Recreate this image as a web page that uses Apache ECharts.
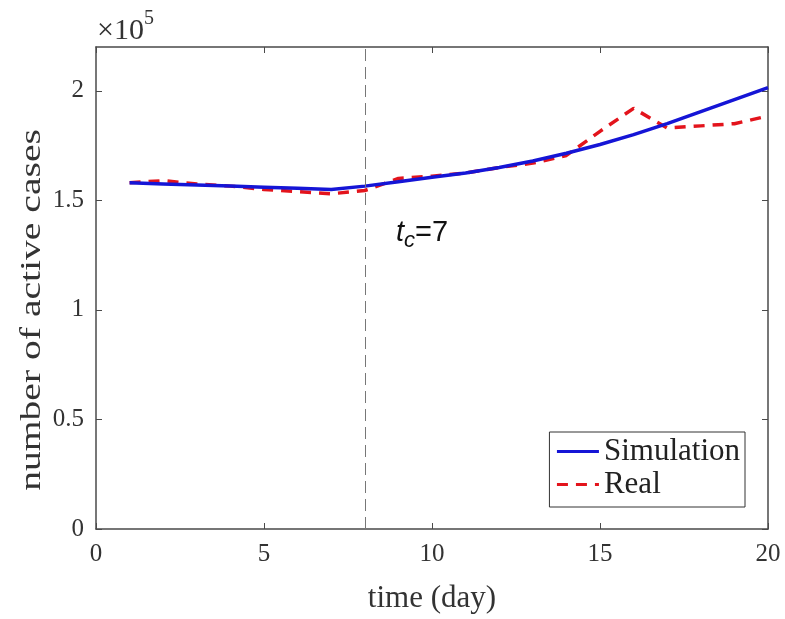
<!DOCTYPE html>
<html>
<head>
<meta charset="utf-8">
<script src="https://cdn.jsdelivr.net/npm/echarts@6/dist/echarts.min.js"></script>
<style>
    html, body { margin: 0; padding: 0; background: #fff; }
    #chart { width: 785px; height: 619px; }
</style>
</head>
<body>
<div id="chart"></div>
<script>
//数据
const days = [1, 2, 3, 4, 5, 6, 7, 8, 9, 10, 11, 12, 13, 14, 15, 16, 17, 18, 19, 20]
const simulation = [158000, 157500, 157000, 156500, 156000, 155500, 155000, 156500, 158500, 160500,
    162500, 165000, 168000, 171500, 175500, 180000, 185000, 190500, 196000, 201500]
const real = [158000, 159000, 157500, 156500, 155000, 154000, 153000, 154500, 160000, 161000,
    162500, 165000, 167000, 170500, 181500, 192000, 183000, 184000, 185000, 188500]
const yTicks = [0, 50000, 100000, 150000, 200000]
const xTicks = [0, 5, 10, 15, 20]
const tc = 8

;(function () {
    const dom = document.querySelector("#chart")
    const echartsInstance = echarts.init(dom)
    const serif = "Liberation Serif"
    const frame = '#4a4a4a'

    //边框的刻度
    const tick = { inside: true, length: 6, lineStyle: { color: frame } }

    const option = {
        animation: false,
        backgroundColor: '#fff',
        grid: {
            left: 96,
            right: 17,
            top: 47,
            bottom: 86,
            show: false
        },
        legend: {
            orient: 'vertical',
            right: 40,
            top: 432,
            itemWidth: 42,
            itemHeight: 4,
            itemGap: 2,
            padding: [4, 5, 7, 6],
            borderColor: '#333',
            borderWidth: 1,
            borderRadius: 0,
            backgroundColor: '#fff',
            itemStyle: { opacity: 0 },
            lineStyle: { width: 3 },
            textStyle: { fontFamily: serif, fontSize: 31, color: '#222' },
            data: ['Simulation', 'Real']
        },
        xAxis: [
            {
                type: 'value',
                min: 0,
                max: 20,
                interval: 5,
                name: 'time (day)',
                nameLocation: 'middle',
                nameGap: 54,
                nameTextStyle: { fontFamily: serif, fontSize: 31, color: '#333' },
                axisLine: { onZero: false, lineStyle: { color: frame, width: 1.5 } },
                axisTick: tick,
                axisLabel: {
                    fontFamily: serif, fontSize: 25, color: '#333', margin: 13,
                    formatter: (v) => xTicks.includes(v) ? String(v) : ''
                },
                splitLine: { show: false }
            },
            {
                type: 'value',
                position: 'top',
                min: 0,
                max: 20,
                interval: 5,
                axisLine: { show: true, onZero: false, lineStyle: { color: frame, width: 1.5 } },
                axisTick: tick,
                axisLabel: { show: false },
                splitLine: { show: false }
            }
        ],
        yAxis: [
            {
                type: 'value',
                min: 0,
                max: 220000,
                interval: 50000,
                axisLine: { show: true, onZero: false, lineStyle: { color: frame, width: 1.5 } },
                axisTick: Object.assign({ customValues: yTicks }, tick),
                axisLabel: {
                    fontFamily: serif, fontSize: 25, color: '#333', margin: 12,
                    customValues: yTicks,
                    formatter: (v) => yTicks.includes(v) ? String(v / 100000) : ''
                },
                splitLine: { show: false }
            },
            {
                type: 'value',
                position: 'right',
                min: 0,
                max: 220000,
                interval: 50000,
                axisLine: { show: true, onZero: false, lineStyle: { color: frame, width: 1.5 } },
                axisTick: Object.assign({ customValues: yTicks }, tick),
                axisLabel: { show: false },
                splitLine: { show: false }
            }
        ],
        graphic: [
            {
                type: 'text',
                x: 32,
                y: 310,
                rotation: Math.PI / 2,
                scaleX: 1.32,
                style: {
                    text: 'number of active cases',
                    fontFamily: serif,
                    fontSize: 30,
                    fill: '#333',
                    align: 'center',
                    verticalAlign: 'middle'
                }
            },
            {
                type: 'text',
                left: 97,
                top: 9,
                style: {
                    text: '{a|×10}{b|5}',
                    rich: {
                        a: { fontFamily: serif, fontSize: 30, fill: '#333', padding: [10, 0, 0, 0] },
                        b: { fontFamily: serif, fontSize: 20, fill: '#333', padding: [0, 0, 14, 0] }
                    }
                }
            },
            {
                type: 'text',
                left: 396,
                top: 218,
                style: {
                    text: '{t|t}{c|c}{e|=7}',
                    rich: {
                        t: { fontFamily: 'Liberation Sans', fontStyle: 'italic', fontSize: 29, fill: '#111' },
                        c: { fontFamily: 'Liberation Sans', fontStyle: 'italic', fontSize: 22, fill: '#111', padding: [17, 0, 0, 0] },
                        e: { fontFamily: 'Liberation Sans', fontSize: 29, fill: '#111' }
                    }
                }
            }
        ],
        series: [
            {
                name: 'Simulation',
                type: 'line',
                data: days.map((d, i) => [d, simulation[i]]),
                showSymbol: false,
                symbol: 'none',
                z: 3,
                lineStyle: { color: '#1515d6', width: 3.5 },
                itemStyle: { color: '#1515d6' },
                markLine: {
                    silent: true,
                    symbol: 'none',
                    label: { show: false },
                    lineStyle: { color: '#777', type: [12, 6], width: 1 },
                    data: [{ xAxis: tc }]
                }
            },
            {
                name: 'Real',
                type: 'line',
                data: days.map((d, i) => [d, real[i]]),
                showSymbol: false,
                symbol: 'none',
                z: 2,
                lineStyle: { color: '#e3141c', width: 3.5, type: [11, 8] },
                itemStyle: { color: '#e3141c' }
            }
        ]
    }

    echartsInstance.setOption(option)
    window.addEventListener('resize', () => {
        echartsInstance.resize()
    })
})();
</script>
</body>
</html>
